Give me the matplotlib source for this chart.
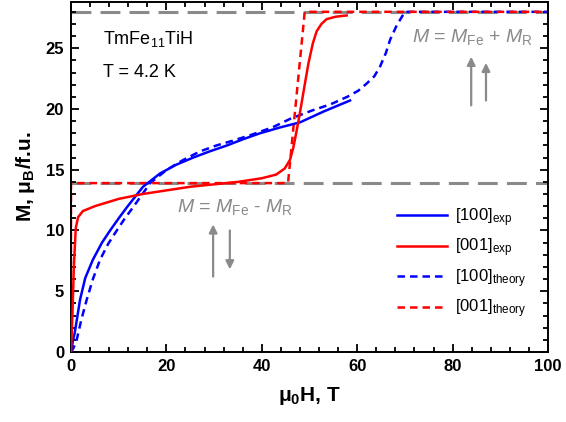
import numpy as np
import matplotlib
matplotlib.use("Agg")
import matplotlib.pyplot as plt
from matplotlib.ticker import MultipleLocator

plt.rcParams['font.family'] = ['Liberation Sans', 'DejaVu Sans']
plt.rcParams['mathtext.fontset'] = 'custom'
plt.rcParams['mathtext.rm'] = 'Liberation Sans'
plt.rcParams['mathtext.it'] = 'Liberation Sans:italic'
plt.rcParams['mathtext.bf'] = 'Liberation Sans:bold'

# [100] experiment (blue solid)
h_100_exp = [0, 0.4, 0.8, 1.9, 3.0, 4.6, 6.5, 8.2, 10, 11.7, 13.5, 15.1, 18.7, 22, 25.6, 29, 32.7, 36, 39.6, 44, 48, 53, 58.5]
m_100_exp = [0, 0.9, 1.6, 4.3, 6.1, 7.6, 9.0, 10.0, 11.0, 11.9, 12.8, 13.6, 14.7, 15.4, 16.0, 16.5, 17.0, 17.5, 18.0, 18.5, 18.9, 19.8, 20.7]

# [001] experiment (red solid)
h_001_exp = [0, 0.3, 0.6, 1.0, 1.5, 2.5, 5, 10, 15, 20, 25, 30, 35, 40, 43, 44.8, 45.9, 46.6, 47.3, 48, 49, 49.8, 50.7, 51.5, 52.5, 53.6, 55.5, 57.8]
m_001_exp = [0, 3.0, 7.0, 10.2, 11.1, 11.6, 12.0, 12.6, 13.0, 13.3, 13.6, 13.8, 14.0, 14.3, 14.6, 15.1, 15.8, 16.8, 18.2, 19.7, 22.0, 23.8, 25.4, 26.4, 27.0, 27.4, 27.6, 27.7]

# [100] theory (blue dashed)
h_100_th = [0, 0.5, 1.2, 2.2, 3.3, 4.6, 6.1, 7.8, 9.6, 11.3, 13.0, 16.6, 20.1, 23.5, 27, 30.5, 34, 38, 42.3, 46, 50.7, 54.5, 57.9, 60.2, 62, 63.6, 64.8, 66.0, 66.9, 68.3, 70, 100]
m_100_th = [0, 0.3, 1.0, 2.7, 4.3, 6.0, 7.6, 8.9, 10.0, 11.0, 11.9, 13.9, 15.0, 15.8, 16.5, 17.0, 17.4, 17.9, 18.5, 19.2, 19.9, 20.4, 21.0, 21.5, 22.1, 22.7, 23.5, 24.6, 25.7, 26.9, 28.0, 28.0]

# [001] theory (red dashed)
h_001_th = [0, 0, 45.5, 49.0, 100]
m_001_th = [0, 13.9, 13.9, 28.0, 28.0]

m_ferri = 13.9
m_ferro = 28.0

fig = plt.figure(figsize=(5.66, 4.22), dpi=100)
ax = fig.add_axes([0.1254, 0.166, 0.8428, 0.829])

gray = '#8a8a8a'
ax.axhline(m_ferri, color=gray, lw=2.2, dashes=(6.5, 3), zorder=1)
ax.axhline(m_ferro, color=gray, lw=2.2, dashes=(6.5, 3), zorder=1)

ax.plot(h_100_exp, m_100_exp, color='#0000ff', lw=1.8, label='[100]$_\\mathrm{exp}$', zorder=3)
ax.plot(h_001_exp, m_001_exp, color='#ff0000', lw=1.8, label='[001]$_\\mathrm{exp}$', zorder=3)
ax.plot(h_100_th, m_100_th, color='#0000ff', lw=1.8, ls=(0, (3, 2)), label='[100]$_\\mathrm{theory}$', zorder=2)
ax.plot(h_001_th, m_001_th, color='#ff0000', lw=1.8, ls=(0, (3, 2)), label='[001]$_\\mathrm{theory}$', zorder=2)

ax.set_xlim(0, 100)
ax.set_ylim(0, 28.8)
ax.xaxis.set_major_locator(MultipleLocator(20))
ax.xaxis.set_minor_locator(MultipleLocator(4))
ax.yaxis.set_major_locator(MultipleLocator(5))
ax.yaxis.set_minor_locator(MultipleLocator(1))
ax.tick_params(which='both', direction='in', top=True, right=True, width=1.3)
ax.tick_params(which='major', length=6, labelsize=12, pad=5)
ax.tick_params(which='minor', length=3.5)
for lab in ax.get_xticklabels() + ax.get_yticklabels():
    lab.set_fontweight('bold')
for sp in ax.spines.values():
    sp.set_linewidth(1.4)

ax.set_xlabel('μ$_\\mathbf{0}$H, T', fontsize=15, fontweight='bold', labelpad=8)
ax.set_ylabel('M, μ$_\\mathbf{B}$/f.u.', fontsize=15, fontweight='bold', labelpad=6)

ax.text(6.7, 25.8, 'TmFe$_{11}$TiH', fontsize=13, va='center')
ax.text(6.7, 23.0, 'T = 4.2 K', fontsize=13, va='center')

ax.text(71.5, 25.9, '$M$ = $M_\\mathrm{Fe}$ + $M_\\mathrm{R}$', fontsize=14, color=gray, va='center')
ax.text(22.2, 11.9, '$M$ = $M_\\mathrm{Fe}$ - $M_\\mathrm{R}$', fontsize=14, color=gray, va='center')

arrow = dict(arrowstyle='-|>', color=gray, lw=1.6, mutation_scale=12, shrinkA=0, shrinkB=0)
ax.annotate('', xy=(83.9, 24.3), xytext=(83.9, 20.3), arrowprops=arrow)
ax.annotate('', xy=(87.0, 23.8), xytext=(87.0, 20.7), arrowprops=arrow)
ax.annotate('', xy=(29.8, 10.5), xytext=(29.8, 6.2), arrowprops=arrow)
ax.annotate('', xy=(33.3, 6.8), xytext=(33.3, 10.0), arrowprops=arrow)

ax.legend(loc='upper left', bbox_to_anchor=(0.652, 0.46), frameon=False, fontsize=12,
          handlelength=3.0, labelspacing=0.48, handletextpad=0.5)

fig.savefig('out.png', dpi=100)
